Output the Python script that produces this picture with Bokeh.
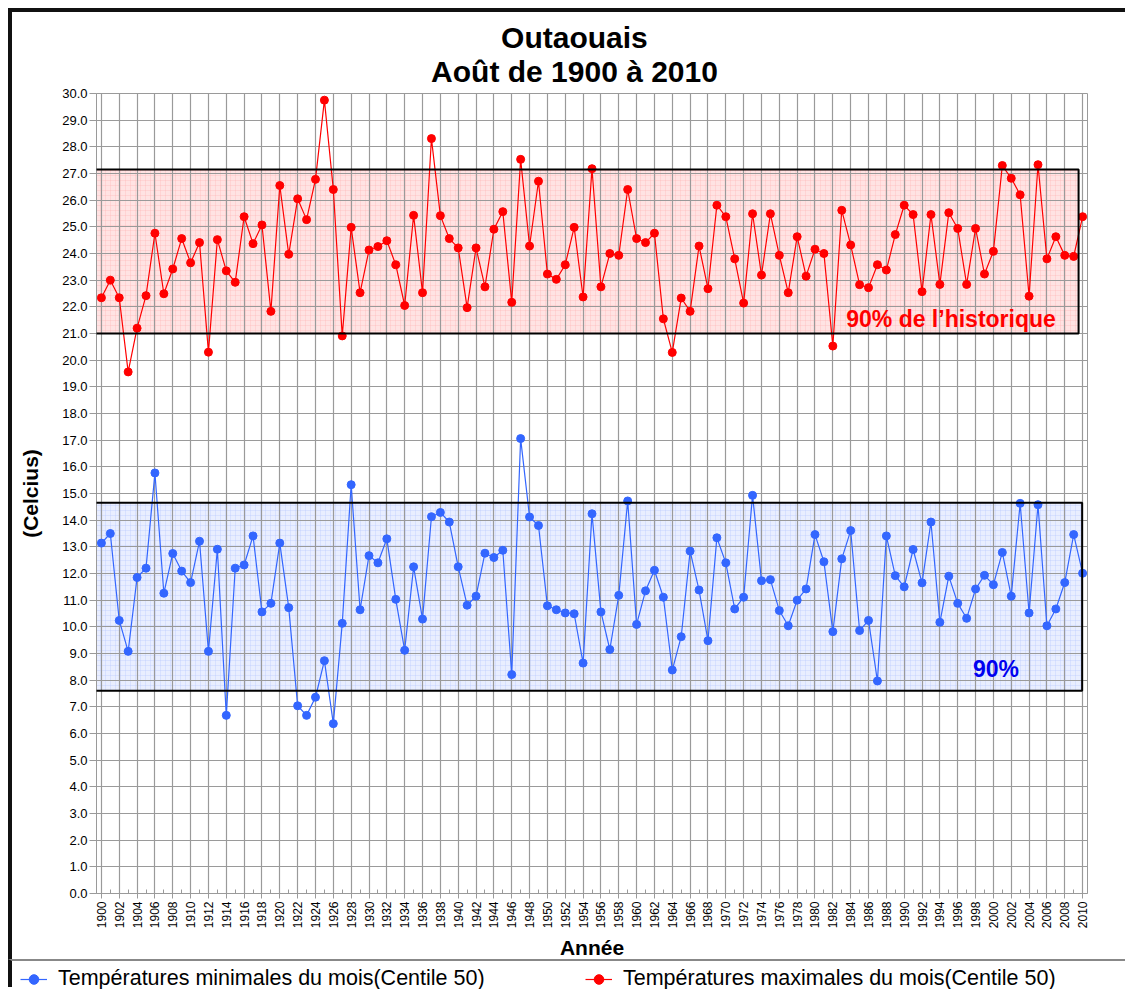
from math import pi
from bokeh.plotting import figure
from bokeh.models import (FixedTicker, NumeralTickFormatter, BoxAnnotation, Label,
                          Legend, LegendItem, Range1d, ColumnDataSource, Title)
from bokeh.embed import file_html
from bokeh.resources import INLINE

# ---------------- data ----------------
years = list(range(1900, 2011))

tmin = [13.14, 13.50, 10.24, 9.08, 11.85, 12.20, 15.77, 11.26, 12.75, 12.09,
        11.66, 13.21, 9.08, 12.91, 6.68, 12.20, 12.32, 13.41, 10.56, 10.88,
        13.14, 10.72, 7.04, 6.68, 7.36, 8.73, 6.37, 10.13, 15.33, 10.64,
        12.67, 12.40, 13.30, 11.03, 9.12, 12.25, 10.29, 14.13, 14.29, 13.93,
        12.25, 10.81, 11.15, 12.76, 12.60, 12.87, 8.21, 17.06, 14.12, 13.80,
        10.79, 10.64, 10.52, 10.49, 8.64, 14.24, 10.56, 9.15, 11.18, 14.72,
        10.09, 11.35, 12.12, 11.11, 8.38, 9.63, 12.84, 11.38, 9.48, 13.34,
        12.40, 10.67, 11.11, 14.93, 11.73, 11.77, 10.61, 10.04, 11.00, 11.42,
        13.46, 12.44, 9.82, 12.55, 13.61, 9.86, 10.24, 7.97, 13.41, 11.92,
        11.50, 12.90, 11.65, 13.93, 10.17, 11.90, 10.88, 10.32, 11.42, 11.93,
        11.58, 12.79, 11.15, 14.63, 10.52, 14.58, 10.04, 10.67, 11.66, 13.46,
        12.01]

tmax = [22.34, 23.00, 22.34, 19.56, 21.20, 22.42, 24.76, 22.49, 23.42, 24.56,
        23.65, 24.41, 20.30, 24.52, 23.35, 22.92, 25.38, 24.37, 25.07, 21.83,
        26.55, 23.97, 26.05, 25.27, 26.78, 29.75, 26.40, 20.91, 24.98, 22.53,
        24.13, 24.26, 24.48, 23.58, 22.05, 25.43, 22.53, 28.31, 25.42, 24.56,
        24.21, 21.97, 24.21, 22.75, 24.91, 25.57, 22.17, 27.53, 24.28, 26.71,
        23.23, 23.03, 23.58, 24.98, 22.37, 27.18, 22.75, 24.00, 23.93, 26.40,
        24.56, 24.41, 24.76, 21.55, 20.29, 22.33, 21.83, 24.28, 22.68, 25.81,
        25.38, 23.80, 22.14, 25.49, 23.19, 25.49, 23.93, 22.53, 24.63, 23.15,
        24.16, 24.00, 20.53, 25.62, 24.32, 22.83, 22.72, 23.58, 23.38, 24.71,
        25.81, 25.46, 22.57, 25.46, 22.84, 25.53, 24.94, 22.84, 24.94, 23.23,
        24.08, 27.30, 26.82, 26.20, 22.40, 27.33, 23.80, 24.63, 23.93, 23.89,
        25.38]

x_ticks = list(range(1900, 2011, 2))
x_minor_ticks = list(range(1901, 2011, 2))
y_ticks = list(range(0, 31))

band_max = [21.0, 27.15]   # 90% of history, maximum temperatures
band_min = [7.6, 14.65]    # 90% of history, minimum temperatures

title_lines = ["Outaouais", "Août de 1900 à 2010"]
y_label = "(Celcius)"
x_label = "Année"
label_min = "Températures minimales du mois(Centile 50)"
label_max = "Températures maximales du mois(Centile 50)"
band_max_text = "90% de l\u2019historique"
band_min_text = "90%"

# ---------------- styles ----------------
FONT = "Liberation Sans"
BLUE = "#3366FF"
RED = "#FF0000"
GRID = "#9a9a9a"

p = figure(width=1117, height=951, output_backend="svg", toolbar_location=None,
           x_range=Range1d(1899.45, 2010.55), y_range=Range1d(0, 30),
           min_border_left=84, min_border_right=42, min_border_top=81,
           min_border_bottom=70)
p.styles = {"margin-left": "8px", "margin-top": "8px",
            "border-left": "4px solid #111111", "border-top": "4px solid #111111"}
p.title.text = ""
p.outline_line_color = GRID
p.background_fill_color = "white"

p.xgrid.grid_line_color = GRID
p.ygrid.grid_line_color = GRID
p.xgrid.grid_line_width = 1.2
p.ygrid.grid_line_width = 1.2

xa = p.xaxis[0]
xa.ticker = FixedTicker(ticks=x_ticks, minor_ticks=x_minor_ticks)
xa.major_label_orientation = pi / 2
xa.major_label_text_font = FONT
xa.major_label_text_font_size = "12px"
xa.major_label_text_color = "black"
xa.axis_line_color = GRID
xa.major_tick_line_color = GRID
xa.major_tick_in = 0
xa.major_tick_out = 5
xa.minor_tick_line_color = GRID
xa.minor_tick_in = 4
xa.minor_tick_out = 0
xa.major_label_standoff = 3
xa.axis_label = x_label
xa.axis_label_text_font = FONT
xa.axis_label_text_font_style = "bold"
xa.axis_label_text_font_size = "21px"
xa.axis_label_text_color = "black"
xa.axis_label_standoff = 5

ya = p.yaxis[0]
ya.ticker = FixedTicker(ticks=y_ticks)
ya.formatter = NumeralTickFormatter(format="0.0")
ya.major_label_text_font = FONT
ya.major_label_text_font_size = "13px"
ya.major_label_text_color = "black"
ya.axis_line_color = GRID
ya.major_tick_line_color = GRID
ya.major_tick_in = 0
ya.major_tick_out = 7
ya.minor_tick_line_color = None
ya.major_label_standoff = 2
ya.axis_label = y_label
ya.axis_label_text_font = FONT
ya.axis_label_text_font_style = "bold"
ya.axis_label_text_font_size = "21px"
ya.axis_label_text_color = "black"
ya.axis_label_standoff = 17

# titles: first added is closest to the frame
p.add_layout(Title(text=title_lines[1], align="left", offset=334.6, standoff=11,
                   text_font=FONT, text_font_style="bold", text_font_size="30px",
                   text_color="black"), "above")
p.add_layout(Title(text=title_lines[0], align="left", offset=404.6, standoff=-12,
                   text_font=FONT, text_font_style="bold", text_font_size="30px",
                   text_color="black"), "above")

# bands: fill below grid, border above
for (lo, hi), fill, hatch, xl, xr in [
        (band_max, "#ffe3e3", "#ffb8b8", 1898.4, 2009.55),
        (band_min, "#e9eeff", "#b9c9ff", 1898.45, 2009.95)]:
    p.add_layout(BoxAnnotation(left=xl, right=xr, bottom=lo, top=hi,
                               fill_color=fill, fill_alpha=1.0, line_color=None,
                               hatch_pattern="+", hatch_color=hatch, hatch_alpha=0.6,
                               hatch_scale=5, hatch_weight=0.6, level="image"))
    p.add_layout(BoxAnnotation(left=xl, right=xr, bottom=lo, top=hi,
                               fill_alpha=0, line_color="black", line_alpha=1.0,
                               line_width=2))

src = ColumnDataSource(dict(year=years, tmin=tmin, tmax=tmax))
p.line("year", "tmin", source=src, line_color=BLUE, line_width=1.2)
p.scatter("year", "tmin", source=src, size=8, color=BLUE)
p.line("year", "tmax", source=src, line_color=RED, line_width=1.2)
p.scatter("year", "tmax", source=src, size=8, color=RED)

# in-plot texts
p.add_layout(Label(x=1983.5, y=21.55, text=band_max_text, text_color=RED,
                   text_font=FONT, text_font_style="bold", text_font_size="23px",
                   text_baseline="alphabetic"))
p.add_layout(Label(x=1997.7, y=8.43, text=band_min_text, text_color="#0000F0",
                   text_font=FONT, text_font_style="bold", text_font_size="23px",
                   text_baseline="alphabetic"))

# ---------------- legend strip (separate root, no frame alignment) ----------------
lg = figure(width=1117, height=28, output_backend="svg", toolbar_location=None,
            x_range=Range1d(0, 1), y_range=Range1d(0, 1),
            x_axis_type=None, y_axis_type=None, min_border=0)
lg.title.text = ""
lg.outline_line_color = None
lg.styles = {"margin-left": "8px", "border-left": "4px solid #111111",
             "border-top": "2px solid #888888"}
# same series (outside the strip's ranges, so only the legend glyphs show)
kmin_l = lg.line("year", "tmin", source=src, line_color=BLUE, line_width=1.2)
kmin_s = lg.scatter("year", "tmin", source=src, size=8, color=BLUE)
kmax_l = lg.line("year", "tmax", source=src, line_color=RED, line_width=1.2)
kmax_s = lg.scatter("year", "tmax", source=src, size=8, color=RED)

legend = Legend(items=[LegendItem(label=label_min, renderers=[kmin_l, kmin_s]),
                       LegendItem(label=label_max, renderers=[kmax_l, kmax_s])],
                orientation="horizontal", location=(8, -2),
                border_line_color=None, background_fill_alpha=0,
                padding=0, margin=0, spacing=27, glyph_width=27, glyph_height=24,
                label_standoff=11, label_width=500, label_height=24,
                label_text_font=FONT, label_text_font_size="21.5px",
                label_text_color="black")
lg.add_layout(legend)

open("out.html", "w").write(file_html([p, lg], INLINE))
